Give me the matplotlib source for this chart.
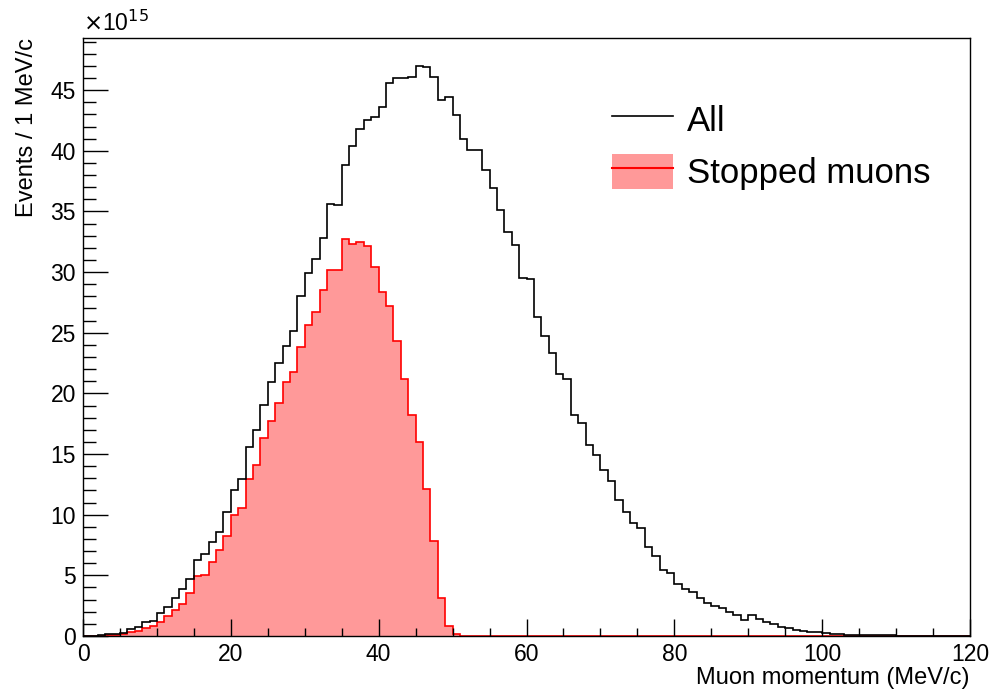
import numpy as np
import matplotlib
matplotlib.use('Agg')
import matplotlib.pyplot as plt
from matplotlib.patches import Patch
from matplotlib.lines import Line2D
from matplotlib.ticker import MultipleLocator

plt.rcParams['font.family'] = ['Liberation Sans', 'DejaVu Sans']

# ---- histogram contents, 1 MeV/c bins from 0 to 120, units of 1e15 ---- #
edges = np.arange(0, 121, 1)

all_muons = [0, 0, 0.05, 0.14, 0.14, 0.27, 0.55, 0.74, 1.13, 1.21,
             1.92, 2.36, 3.16, 3.85, 4.7, 6.26, 6.78, 7.72, 8.6, 10.2,
             12.06, 12.94, 15.55, 16.98, 19.04, 20.97, 22.48, 23.9, 25.15, 28.06,
             29.9, 31.05, 32.8, 35.6, 35.5, 38.8, 40.4, 41.8, 42.5, 42.8,
             43.6, 45.6, 46.0, 46.0, 46.1, 47.0, 46.9, 46.1, 44.2, 44.4,
             42.95, 41.0, 40.1, 40.1, 38.4, 36.9, 35.1, 33.3, 32.2, 29.5,
             29.4, 26.3, 24.7, 23.3, 21.6, 21.2, 18.2, 17.6, 15.75, 14.9,
             13.7, 12.8, 11.2, 10.25, 9.34, 8.88, 7.31, 6.62, 5.44, 5.22,
             4.26, 3.85, 3.6, 3.13, 2.75, 2.5, 2.3, 1.95, 1.73, 1.32,
             1.76, 1.37, 1.15, 0.96, 0.74, 0.63, 0.49, 0.4, 0.3, 0.3,
             0.25, 0.2, 0.15, 0.12, 0.1, 0.08, 0.08, 0.06, 0.08, 0.05,
             0, 0, 0, 0, 0, 0, 0, 0, 0, 0]

stopped = [0, 0, 0, 0.08, 0.08, 0.14, 0.3, 0.44, 0.63, 0.85,
           1.18, 1.64, 2.11, 2.64, 3.52, 4.92, 5.06, 6.12, 7.06, 8.27,
           9.97, 10.58, 12.94, 14.1, 16.35, 17.75, 19.18, 20.9, 21.76, 23.85,
           25.6, 26.7, 28.5, 30.2, 30.2, 32.7, 32.3, 32.45, 32.15, 30.4,
           28.4, 27.2, 24.3, 21.2, 18.2, 16.0, 12.1, 7.8, 3.1, 0.82,
           0.14, 0, 0.03] + [0]*67

labels = ['All', 'Stopped muons']
pink = '#ff9999'

fig = plt.figure(figsize=(9.9, 6.9), dpi=100)
ax = fig.add_axes([83/990, 54/690, 887/990, 598/690])

ax.stairs(stopped, edges, fill=True, color=pink, lw=0)
ax.stairs(stopped, edges, color='red', lw=1.2)
ax.stairs(all_muons, edges, color='black', lw=1.2)

ax.set_xlim(0, 120)
ax.set_ylim(0, 49.3)
ax.xaxis.set_major_locator(MultipleLocator(20))
ax.xaxis.set_minor_locator(MultipleLocator(5))
ax.yaxis.set_major_locator(MultipleLocator(5))
ax.yaxis.set_minor_locator(MultipleLocator(1))
ax.tick_params(which='both', direction='in', top=False, right=False, width=1, labelsize=16.5)
ax.tick_params(axis='x', which='major', length=12, pad=5)
ax.tick_params(axis='x', which='minor', length=6)
ax.tick_params(axis='y', which='major', length=18, pad=5)
ax.tick_params(axis='y', which='minor', length=9)
for s in ax.spines.values():
    s.set_linewidth(1)

ax.set_xlabel('Muon momentum (MeV/c)', fontsize=17, loc='right', labelpad=1)
ax.set_ylabel('Events / 1 MeV/c', fontsize=17, loc='top', labelpad=9)
ax.text(0, 1.004, r'$\times$10$^{15}$', transform=ax.transAxes, fontsize=16.5,
        ha='left', va='bottom')

handles = [Line2D([], [], color='black', lw=1.2),
           (Patch(facecolor=pink, edgecolor='none'), Line2D([], [], color='red', lw=1.5))]
ax.legend(handles, labels, loc='upper left', bbox_to_anchor=(595/990, 1-84/690),
          bbox_transform=fig.transFigure, frameon=False, fontsize=25,
          handlelength=1.75, handleheight=1.2, handletextpad=0.4, labelspacing=0.45,
          borderpad=0)

fig.savefig('out.png', dpi=100)
